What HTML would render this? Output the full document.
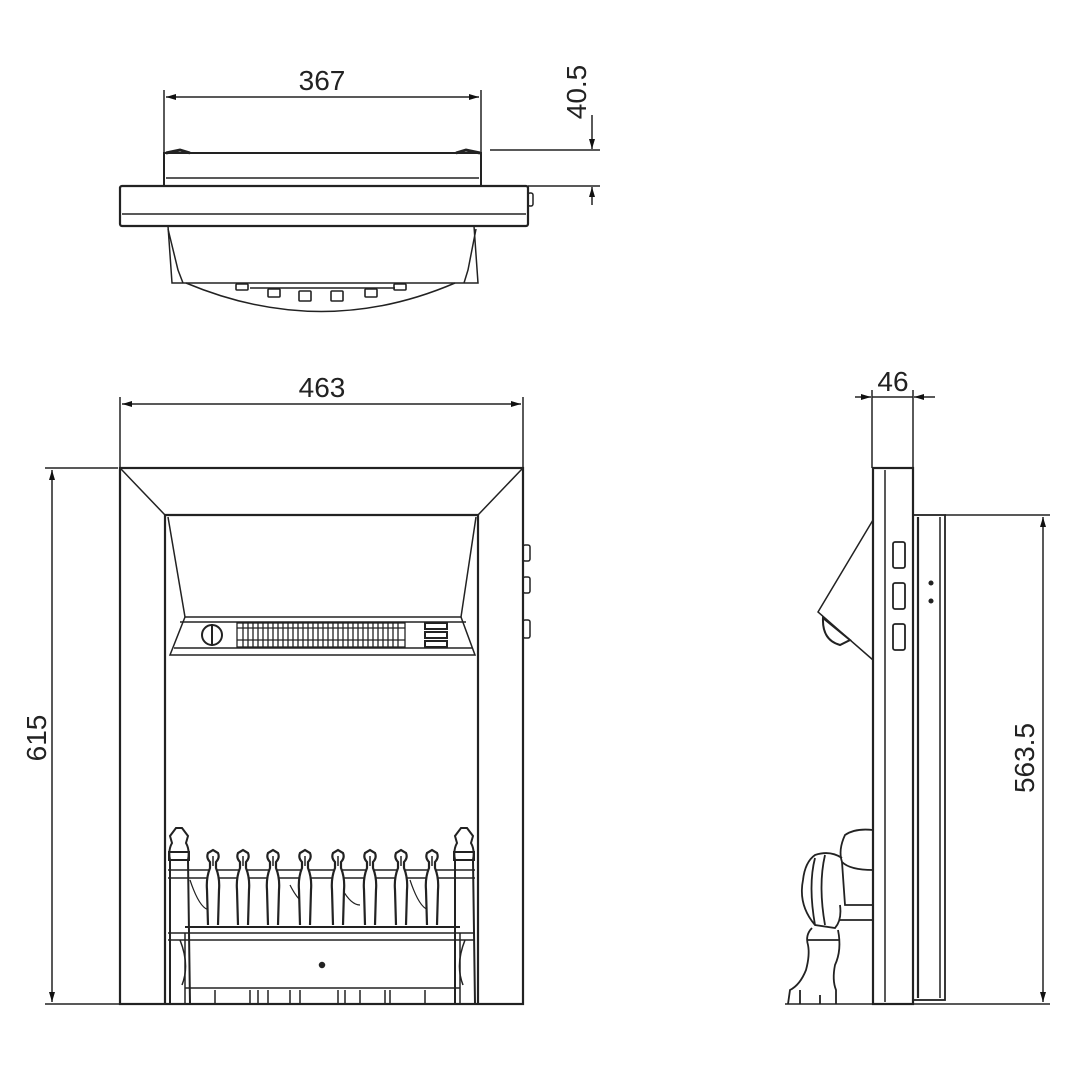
<!DOCTYPE html>
<html><head><meta charset="utf-8"><style>
html,body{margin:0;padding:0;background:#fff}
svg{display:block}
text{font-family:"Liberation Sans",sans-serif;fill:#222}
</style></head><body>
<svg width="1080" height="1080" viewBox="0 0 1080 1080" xmlns="http://www.w3.org/2000/svg">
<defs>
<marker id="a" viewBox="0 0 10 6" refX="10" refY="3" markerWidth="14" markerHeight="6" markerUnits="userSpaceOnUse" orient="auto-start-reverse"><path d="M0,0 L10,3 L0,6 z" fill="#111"/></marker>
<g id="post">
<path d="M-5,925 L-6,890 Q-7,878 -3,868 L-3,862 Q-7,858 -5,853 L0,850 L5,853 Q7,858 3,862 L3,868 Q7,878 6,890 L5,925" fill="#fff" stroke="#222" stroke-width="2.2"/>
<line x1="0" y1="856" x2="0" y2="866" stroke="#222" stroke-width="1.5"/>
</g>
</defs>
<g fill="none" stroke="#222" stroke-width="1.5">
<!-- TOP VIEW -->
<line x1="164" y1="90" x2="164" y2="152"/><line x1="481" y1="90" x2="481" y2="152"/>
<line x1="166" y1="97" x2="479" y2="97" marker-start="url(#a)" marker-end="url(#a)"/>
<line x1="490" y1="150" x2="600" y2="150"/><line x1="528" y1="186" x2="600" y2="186"/>
<line x1="592" y1="115" x2="592" y2="149" marker-end="url(#a)"/>
<line x1="592" y1="205" x2="592" y2="187" marker-end="url(#a)"/>
<rect x="164" y="153" width="317" height="33" stroke-width="2"/>
<line x1="166" y1="178" x2="479" y2="178"/>
<path d="M166,153 L180,150 L190,153 M480,153 L466,150 L456,153" stroke-width="3"/>
<rect x="120" y="186" width="408" height="40" rx="2" stroke-width="2.2"/>
<line x1="122" y1="214" x2="526" y2="214"/>
<rect x="528" y="193" width="5" height="13" rx="2"/>
<path d="M168,226 L172,283 L478,283 L474,226"/>
<path d="M168,229 L178,270 L183,283 M476,229 L468,270 L464,283" stroke-width="1.5"/>
<path d="M186,283 Q322,340 455,283"/>
<g stroke-width="1.6">
<rect x="236" y="284" width="12" height="6" rx="1"/><rect x="394" y="284" width="12" height="6" rx="1"/>
<rect x="268" y="289" width="12" height="8" rx="1"/><rect x="365" y="289" width="12" height="8" rx="1"/>
<rect x="299" y="291" width="12" height="10" rx="1"/><rect x="331" y="291" width="12" height="10" rx="1"/>
<path d="M250,288 L395,288"/>
</g>

<!-- FRONT VIEW -->
<line x1="120" y1="397" x2="120" y2="468"/><line x1="523" y1="397" x2="523" y2="468"/>
<line x1="122" y1="404" x2="521" y2="404" marker-start="url(#a)" marker-end="url(#a)"/>
<line x1="45" y1="468" x2="118" y2="468"/><line x1="45" y1="1004" x2="165" y2="1004"/>
<line x1="52" y1="470" x2="52" y2="1002" marker-start="url(#a)" marker-end="url(#a)"/>
<rect x="120" y="468" width="403" height="536" stroke-width="2.2"/>
<path d="M165,1004 L165,515 L478,515 L478,1004" stroke-width="2.2"/>
<line x1="121" y1="469" x2="165" y2="515"/><line x1="522" y1="469" x2="478" y2="515"/>
<path d="M168,517 L185,617 L461,617 L476,517" stroke-width="1.5"/>
<path d="M185,617 L170,655 L475,655 L461,617" stroke-width="1.5"/>
<line x1="180" y1="622" x2="466" y2="622"/><line x1="174" y1="648" x2="472" y2="648"/>
<circle cx="212" cy="635" r="10" stroke-width="2"/>
<line x1="212" y1="624" x2="212" y2="646" stroke-width="2"/>
<rect x="237" y="623" width="168" height="24" stroke-width="1.3"/>
<g stroke-width="1.3">
<path d="M243,623V647M248,623V647M253,623V647M258,623V647M263,623V647M268,623V647M273,623V647M278,623V647M283,623V647M288,623V647M293,623V647M298,623V647M303,623V647M308,623V647M313,623V647M318,623V647M323,623V647M328,623V647M333,623V647M338,623V647M343,623V647M348,623V647M353,623V647M358,623V647M363,623V647M368,623V647M373,623V647M378,623V647M383,623V647M388,623V647M393,623V647M398,623V647"/>
<path d="M237,628H405M237,640H405"/>
</g>
<g stroke-width="2"><rect x="425" y="623" width="22" height="6"/><rect x="425" y="632" width="22" height="6"/><rect x="425" y="641" width="22" height="6"/></g>
<g stroke-width="1.5"><rect x="523" y="545" width="7" height="16" rx="2"/><rect x="523" y="577" width="7" height="16" rx="2"/><rect x="523" y="620" width="7" height="18" rx="2"/></g>
<!-- grate -->
<line x1="168" y1="870" x2="475" y2="870"/><line x1="168" y1="878" x2="475" y2="878"/>
<line x1="185" y1="927" x2="460" y2="927" stroke-width="2"/>
<line x1="168" y1="933" x2="475" y2="933"/><line x1="168" y1="940" x2="475" y2="940"/>
<line x1="185" y1="988" x2="460" y2="988" stroke-width="1.6"/>
<line x1="185" y1="933" x2="185" y2="1004"/><line x1="460" y1="933" x2="460" y2="1004"/>
<path d="M180,940 Q190,965 182,985 M465,940 Q455,965 463,985"/>
<path d="M215,990V1004M250,990V1004M258,990V1004M268,990V1004M290,990V1004M300,990V1004M338,990V1004M345,990V1004M360,990V1004M385,990V1004M390,990V1004M425,990V1004"/>
<path d="M190,880 Q200,910 210,910 M290,885 Q300,905 310,905 M340,885 Q350,905 360,905 M410,880 Q420,910 430,910" stroke-width="1.2"/>
<circle cx="322" cy="965" r="2.5" fill="#222"/>
<g stroke-width="2">
<path d="M170,1004 L170,860 Q168,850 172,843 L170,836 L176,828 L182,828 L188,836 L186,843 Q190,850 188,860 L190,1004"/>
<rect x="169" y="852" width="20" height="8"/>
<path d="M455,1004 L455,860 Q453,850 457,843 L455,836 L461,828 L467,828 L473,836 L471,843 Q475,850 473,860 L475,1004"/>
<rect x="454" y="852" width="20" height="8"/>
</g>
<use href="#post" x="213"/><use href="#post" x="243"/><use href="#post" x="273"/><use href="#post" x="305"/>
<use href="#post" x="338"/><use href="#post" x="370"/><use href="#post" x="401"/><use href="#post" x="432"/>

<!-- SIDE VIEW -->
<line x1="872" y1="390" x2="872" y2="468"/><line x1="913" y1="390" x2="913" y2="468"/>
<line x1="855" y1="397" x2="871" y2="397" marker-end="url(#a)"/>
<line x1="935" y1="397" x2="914" y2="397" marker-end="url(#a)"/>
<line x1="872" y1="397" x2="913" y2="397"/>
<rect x="873" y="468" width="40" height="536" stroke-width="2.2"/>
<line x1="885" y1="470" x2="885" y2="1002"/>
<rect x="913" y="515" width="32" height="485" stroke-width="1.8"/>
<line x1="918" y1="517" x2="918" y2="998" stroke-width="2.2"/>
<line x1="940" y1="517" x2="940" y2="998"/>
<line x1="945" y1="515" x2="1050" y2="515"/><line x1="945" y1="1004" x2="1050" y2="1004"/>
<line x1="1043" y1="517" x2="1043" y2="1002" marker-start="url(#a)" marker-end="url(#a)"/>
<line x1="785" y1="1004" x2="945" y2="1004" stroke-width="1.6"/>
<path d="M873,520 L818,612 L873,660"/>
<path d="M823,618 Q822,640 840,645 L850,640 Z" stroke-width="2"/>
<g stroke-width="1.8"><rect x="893" y="542" width="12" height="26" rx="2"/><rect x="893" y="583" width="12" height="26" rx="2"/><rect x="893" y="624" width="12" height="26" rx="2"/></g>
<circle cx="931" cy="583" r="1.8" fill="#222"/><circle cx="931" cy="601" r="1.8" fill="#222"/>
<g stroke-width="1.8">
<path d="M873,830 Q855,828 845,835 Q838,850 842,862 Q850,870 873,870"/>
<path d="M842,862 L845,905 L873,905"/>
<path d="M842,858 Q830,850 815,855 Q805,862 803,880 Q798,905 815,925 L835,928 Q842,920 840,905"/>
<path d="M815,858 Q808,885 815,925 M825,855 Q818,885 825,925"/>
<path d="M812,928 Q805,935 808,945 Q810,955 806,970 Q800,985 790,990 L788,1004 M838,930 Q842,950 835,965 Q832,980 836,990 L836,1004"/>
<path d="M808,940 L840,940"/>
<path d="M800,990 L800,1004 M820,995 L820,1004"/>
<path d="M840,920 L873,920"/>
</g>
</g>
<text x="322" y="90" font-size="28" text-anchor="middle">367</text>
<text x="322" y="397" font-size="28" text-anchor="middle">463</text>
<text x="893" y="391" font-size="28" text-anchor="middle">46</text>
<text transform="translate(586,92) rotate(-90)" font-size="28" text-anchor="middle">40.5</text>
<text transform="translate(46,738) rotate(-90)" font-size="28" text-anchor="middle">615</text>
<text transform="translate(1034,758) rotate(-90)" font-size="28" text-anchor="middle">563.5</text>
</svg>
</body></html>
